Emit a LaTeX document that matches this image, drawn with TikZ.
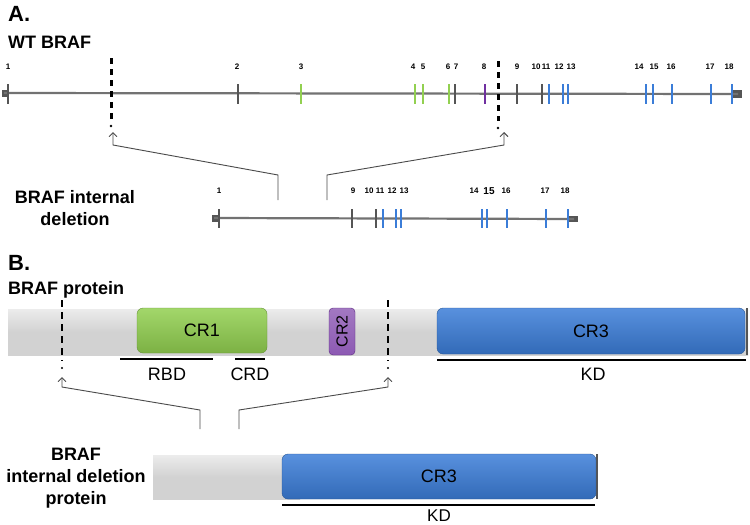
\documentclass[tikz,border=0pt]{standalone}
\usepackage{fontspec}
\setmainfont{Liberation Sans}
\usetikzlibrary{arrows.meta}
\definecolor{exdk}{HTML}{555555}
\definecolor{exgr}{HTML}{92D050}
\definecolor{expu}{HTML}{7030A0}
\definecolor{exbl}{HTML}{3B7DD8}
\definecolor{geneline}{HTML}{727272}
\definecolor{barfill}{HTML}{D2D2D2}
\definecolor{connc}{HTML}{4A4A4A}
\begin{document}
\begin{tikzpicture}[x=1pt,y=-1pt,
  paneltitle/.style={font=\bfseries\fontsize{22}{24}\selectfont, anchor=base west, inner sep=0},
  heading/.style={font=\bfseries\fontsize{18}{22}\selectfont, anchor=base, inner sep=0},
  exlab/.style={font=\bfseries\fontsize{8}{9}\selectfont, anchor=base, inner sep=0},
  genestrand/.style={draw=geneline, line width=2.2pt},
  exontick/.style={line width=2.8pt},
  endcap/.style={fill=exdk},
  cutline/.style={draw=black, line width=3pt, dash pattern=on 6pt off 5pt},
  cutlineB/.style={draw=black, line width=2.4pt, dash pattern=on 7pt off 5pt},
  conn/.style={draw=connc, line width=0.9pt, -{Straight Barb[length=4pt,width=8pt]}},
  domainbox/.style={rounded corners=6pt, inner sep=0, font=\fontsize{18}{20}\selectfont},
  dlabel/.style={font=\fontsize{18}{20}\selectfont, inner sep=0},
  dbar/.style={line width=2.8pt, draw=black}
]
\useasboundingbox (0,0) rectangle (750,525);

% ---------------- Panel A ----------------
\node[paneltitle] (tA) at (8,21) {A.};
\node[paneltitle, font=\bfseries\fontsize{18}{20}\selectfont] (wt) at (8,48) {WT BRAF};

% WT gene strand
\fill[endcap] (2,90) rectangle (9,97);
\fill[endcap] (733,90) rectangle (742,98);
\draw[genestrand] (4,93) -- (738,94);
\foreach \x/\c in {8/exdk,238/exdk,301/exgr,415/exgr,423/exgr,449/exgr,455/exdk,485/expu,517/exdk,542/exdk,549/exbl,563/exbl,568/exbl,646/exbl,653/exbl,672/exbl,711/exbl,732/exbl}
  \draw[exontick, draw=\c] (\x,84) -- (\x,104);
\foreach \x/\n in {8/1,237/2,301/3,413/4,423/5,448/6,456/7,484/8,517/9,536/10,546/11,559/12,571/13,639/14,654/15,671/16,710/17,729/18}
  \node[exlab] (wl\n) at (\x,69) {\n};

% cut lines
\draw[cutline] (111,58) -- (111,120);
\fill (111,126) circle (1.4);
\draw[cutline] (498,61) -- (498,121);
\fill (498,128) circle (1.4);

% deletion gene strand
\node[heading] (delA1) at (75,203) {BRAF internal};
\node[heading] (delA2) at (75,225) {deletion};
\fill[endcap] (212,215) rectangle (220,222);
\fill[endcap] (568,216) rectangle (578,222);
\draw[genestrand] (214,218) -- (574,219);
\foreach \x/\c in {219/exdk,352/exdk,376/exdk,383/exbl,396/exbl,401/exbl,482/exbl,487/exbl,507/exbl,546/exbl,568/exbl}
  \draw[exontick, draw=\c] (\x,209) -- (\x,228);
\foreach \x/\n in {219/1,353/9,369/10,380/11,392/12,404/13,474/14,506/16,545/17,565/18}
  \node[exlab] (dl\n) at (\x,193) {\n};
\node[exlab, font=\bfseries\fontsize{10}{11}\selectfont] (dl15) at (489,194) {15};

% connectors A
\coordinate (aL0) at (278,200);
\coordinate (aL1) at (278,175);
\coordinate (aL2) at (113,145);
\coordinate (aLt) at (113,132);
\coordinate (aR0) at (327,200);
\coordinate (aR1) at (327,175);
\coordinate (aR2) at (504,145);
\coordinate (aRt) at (504,132);
\draw[conn] (aL0) -- (aL1) -- (aL2) -- (aLt);
\draw[conn] (aR0) -- (aR1) -- (aR2) -- (aRt);

% ---------------- Panel B ----------------
\node[paneltitle] (tB) at (8,270) {B.};
\node[paneltitle, font=\bfseries\fontsize{18}{20}\selectfont] (prot) at (8,294) {BRAF protein};

\shade[top color=gray!15, bottom color=barfill, middle color=barfill] (8,309) rectangle (748,355);
\draw[exdk, line width=1.2pt] (747,308) -- (747,355);

\node[domainbox, minimum width=130pt, minimum height=45pt, top color=exgr!85!white, bottom color=exgr!85!black, draw=exgr!70!black] (cr1) at (202,330.5) {CR1};
\node[domainbox, rounded corners=4pt, minimum width=26pt, minimum height=47pt, top color=expu!65!white, bottom color=expu!80!white, draw=expu!80!black] (cr2) at (342,331.5) {};
\node[font=\fontsize{16}{18}\selectfont, rotate=90, inner sep=0] (cr2t) at (cr2.center) {CR2};
\node[domainbox, minimum width=308pt, minimum height=46pt, top color=exbl!85!white, bottom color=exbl!85!black, draw=exbl!70!black] (cr3) at (591,331) {CR3};

\draw[dbar] (120,359) -- (213,359);
\draw[dbar] (235,359) -- (265,359);
\draw[dbar] (437,360) -- (746,360);
\node[dlabel] (rbd) at (167,374) {RBD};
\node[dlabel] (crd) at (250,374) {CRD};
\node[dlabel] (kd) at (593,374) {KD};

\draw[cutlineB] (62,300) -- (62,361);
\fill (62,368) circle (1.2);
\draw[cutlineB] (388,300) -- (388,361);
\fill (388,368) circle (1.2);

\coordinate (bL0) at (200,429);
\coordinate (bL1) at (200,410);
\coordinate (bL2) at (62,387);
\coordinate (bLt) at (62,377);
\coordinate (bR0) at (239,429);
\coordinate (bR1) at (239,410);
\coordinate (bR2) at (388,387);
\coordinate (bRt) at (388,377);
\draw[conn] (bL0) -- (bL1) -- (bL2) -- (bLt);
\draw[conn] (bR0) -- (bR1) -- (bR2) -- (bRt);

% deletion protein
\node[heading] (dp1) at (76,460) {BRAF};
\node[heading] (dp2) at (76,482) {internal deletion};
\node[heading] (dp3) at (76,504) {protein};
\shade[top color=gray!15, bottom color=barfill, middle color=barfill] (153,455) rectangle (300,499);
\draw[exdk, line width=1.2pt] (597,454) -- (597,499);
\node[domainbox, minimum width=314pt, minimum height=45pt, top color=exbl!85!white, bottom color=exbl!85!black, draw=exbl!70!black] (cr3d) at (439,476.5) {CR3};
\draw[dbar] (282,505) -- (595,505);
\node[dlabel, font=\fontsize{17}{19}\selectfont] (kdd) at (439,515.5) {KD};
\end{tikzpicture}
\end{document}
